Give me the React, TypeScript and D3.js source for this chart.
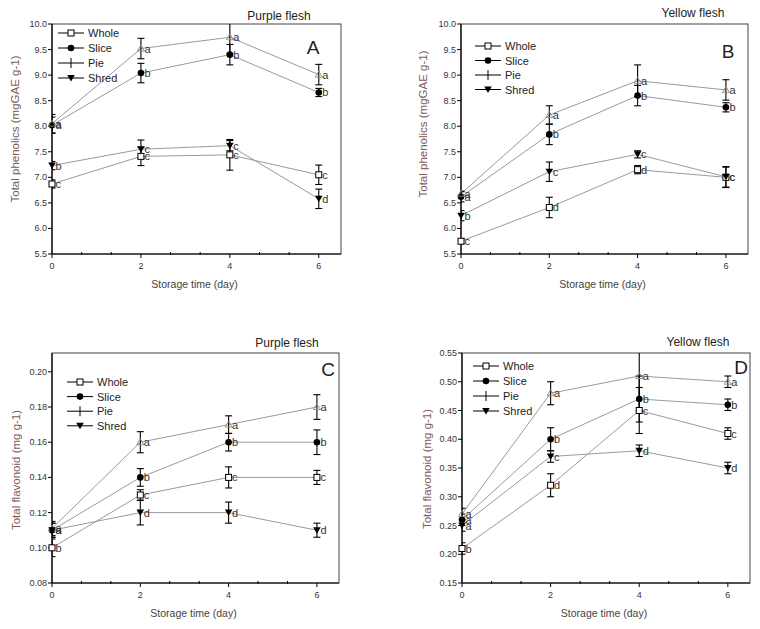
import React from "react";
import * as d3 from "d3";

// ---------- data ----------
const days = [0, 2, 4, 6];
const seriesNames = ["Whole", "Slice", "Pie", "Shred"];

// A: Total phenolics, purple flesh
const phenPurpleWhole = [6.87, 7.41, 7.44, 7.05];
const phenPurpleWholeErr = [0.08, 0.18, 0.3, 0.19];
const phenPurpleWholeSig = ["c", "c", "c", "c"];
const phenPurpleSlice = [8.02, 9.04, 9.4, 8.66];
const phenPurpleSliceErr = [0.16, 0.19, 0.2, 0.08];
const phenPurpleSliceSig = ["a", "b", "b", "b"];
const phenPurplePie = [8.05, 9.52, 9.74, 9.01];
const phenPurplePieErr = [0.18, 0.2, 0.32, 0.2];
const phenPurplePieSig = ["a", "a", "a", "a"];
const phenPurpleShred = [7.23, 7.55, 7.62, 6.58];
const phenPurpleShredErr = [0.08, 0.18, 0.1, 0.19];
const phenPurpleShredSig = ["b", "c", "c", "d"];

// B: Total phenolics, yellow flesh
const phenYellowWhole = [5.75, 6.41, 7.15, 7.0];
const phenYellowWholeErr = [0.05, 0.2, 0.08, 0.2];
const phenYellowWholeSig = ["c", "d", "d", "c"];
const phenYellowSlice = [6.62, 7.84, 8.6, 8.37];
const phenYellowSliceErr = [0.1, 0.2, 0.2, 0.09];
const phenYellowSliceSig = ["a", "b", "b", "b"];
const phenYellowPie = [6.68, 8.22, 8.89, 8.71];
const phenYellowPieErr = [0.05, 0.18, 0.31, 0.2];
const phenYellowPieSig = ["a", "a", "a", "a"];
const phenYellowShred = [6.25, 7.11, 7.45, 7.01];
const phenYellowShredErr = [0.1, 0.19, 0.07, 0.2];
const phenYellowShredSig = ["b", "c", "c", "c"];

// C: Total flavonoid, purple flesh
const flavPurpleWhole = [0.1, 0.13, 0.14, 0.14];
const flavPurpleWholeErr = [0.005, 0.003, 0.006, 0.004];
const flavPurpleWholeSig = ["b", "c", "c", "c"];
const flavPurpleSlice = [0.11, 0.14, 0.16, 0.16];
const flavPurpleSliceErr = [0.004, 0.005, 0.005, 0.007];
const flavPurpleSliceSig = ["a", "b", "b", "b"];
const flavPurplePie = [0.111, 0.16, 0.17, 0.18];
const flavPurplePieErr = [0.004, 0.006, 0.005, 0.007];
const flavPurplePieSig = ["a", "a", "a", "a"];
const flavPurpleShred = [0.11, 0.12, 0.12, 0.11];
const flavPurpleShredErr = [0.004, 0.007, 0.006, 0.004];
const flavPurpleShredSig = ["a", "d", "d", "d"];

// D: Total flavonoid, yellow flesh
const flavYellowWhole = [0.21, 0.32, 0.45, 0.41];
const flavYellowWholeErr = [0.01, 0.02, 0.04, 0.01];
const flavYellowWholeSig = ["b", "d", "c", "c"];
const flavYellowSlice = [0.26, 0.4, 0.47, 0.46];
const flavYellowSliceErr = [0.01, 0.02, 0.04, 0.01];
const flavYellowSliceSig = ["a", "b", "b", "b"];
const flavYellowPie = [0.27, 0.48, 0.51, 0.5];
const flavYellowPieErr = [0.01, 0.02, 0.06, 0.01];
const flavYellowPieSig = ["a", "a", "a", "a"];
const flavYellowShred = [0.25, 0.37, 0.38, 0.35];
const flavYellowShredErr = [0.01, 0.01, 0.01, 0.01];
const flavYellowShredSig = ["a", "c", "d", "d"];

const phenTicks = [5.5, 6.0, 6.5, 7.0, 7.5, 8.0, 8.5, 9.0, 9.5, 10.0];
const flavPurpleTicks = [0.08, 0.1, 0.12, 0.14, 0.16, 0.18, 0.2];
const flavYellowTicks = [0.15, 0.2, 0.25, 0.3, 0.35, 0.4, 0.45, 0.5, 0.55];
const xTicks = [0, 2, 4, 6];

// ---------- layout / style ----------
const FONT = "'Liberation Sans', Arial, Helvetica, sans-serif";
const LINE_GRAY = "#9a9a9a";

type Series = { name: string; vals: number[]; err: number[]; sig: string[] };

const mk = (v: number[][], e: number[][], s: string[][]): Series[] =>
  seriesNames.map((name, i) => ({ name, vals: v[i], err: e[i], sig: s[i] }));

const panels = [
  {
    id: "A",
    x0: 52, x1: 341, y0: 24, y1: 254,
    yDomain: [5.5, 10], yTicks: phenTicks, fmt: ".1f",
    title: "Purple flesh", titleX: 279, titleY: 20,
    letterX: 313, letterY: 54,
    yLabel: "Total phenolics (mgGAE g-1)", yLabelX: 19, yLabelY: 129,
    legX: 58, legY: 33, legDy: 15,
    series: mk(
      [phenPurpleWhole, phenPurpleSlice, phenPurplePie, phenPurpleShred],
      [phenPurpleWholeErr, phenPurpleSliceErr, phenPurplePieErr, phenPurpleShredErr],
      [phenPurpleWholeSig, phenPurpleSliceSig, phenPurplePieSig, phenPurpleShredSig]
    ),
  },
  {
    id: "B",
    x0: 461, x1: 748, y0: 24, y1: 254,
    yDomain: [5.5, 10], yTicks: phenTicks, fmt: ".1f",
    title: "Yellow flesh", titleX: 693, titleY: 17,
    letterX: 728, letterY: 58,
    yLabel: "Total phenolics (mgGAE g-1)", yLabelX: 427, yLabelY: 124,
    legX: 475, legY: 46, legDy: 14.5,
    series: mk(
      [phenYellowWhole, phenYellowSlice, phenYellowPie, phenYellowShred],
      [phenYellowWholeErr, phenYellowSliceErr, phenYellowPieErr, phenYellowShredErr],
      [phenYellowWholeSig, phenYellowSliceSig, phenYellowPieSig, phenYellowShredSig]
    ),
  },
  {
    id: "C",
    x0: 52, x1: 339, y0: 353, y1: 583,
    yDomain: [0.08, 0.2107], yTicks: flavPurpleTicks, fmt: ".2f",
    title: "Purple flesh", titleX: 287, titleY: 347,
    letterX: 328, letterY: 376,
    yLabel: "Total flavonoid (mg g-1)", yLabelX: 20, yLabelY: 470,
    legX: 67, legY: 382, legDy: 14.6,
    series: mk(
      [flavPurpleWhole, flavPurpleSlice, flavPurplePie, flavPurpleShred],
      [flavPurpleWholeErr, flavPurpleSliceErr, flavPurplePieErr, flavPurpleShredErr],
      [flavPurpleWholeSig, flavPurpleSliceSig, flavPurplePieSig, flavPurpleShredSig]
    ),
  },
  {
    id: "D",
    x0: 462, x1: 750, y0: 353, y1: 583,
    yDomain: [0.15, 0.55], yTicks: flavYellowTicks, fmt: ".2f",
    title: "Yellow flesh", titleX: 698, titleY: 346,
    letterX: 741, letterY: 374,
    yLabel: "Total flavonoid (mg g-1)", yLabelX: 431, yLabelY: 469,
    legX: 473, legY: 366, legDy: 15,
    series: mk(
      [flavYellowWhole, flavYellowSlice, flavYellowPie, flavYellowShred],
      [flavYellowWholeErr, flavYellowSliceErr, flavYellowPieErr, flavYellowShredErr],
      [flavYellowWholeSig, flavYellowSliceSig, flavYellowPieSig, flavYellowShredSig]
    ),
  },
];

function Marker({ name, x, y, legend }: { name: string; x: number; y: number; legend?: boolean }) {
  if (name === "Whole") {
    return <rect x={x - 3} y={y - 3} width={6} height={6} fill="#fff" stroke="#000" strokeWidth={1} />;
  }
  if (name === "Slice") {
    return <circle cx={x} cy={y} r={3.3} fill="#000" />;
  }
  if (name === "Pie") {
    if (legend) {
      return <path d={`M${x},${y - 5}V${y + 5}`} stroke="#000" strokeWidth={1} />;
    }
    return (
      <path
        d={`M${x},${y - 3.5}L${x + 3.5},${y + 2.5}L${x - 3.5},${y + 2.5}Z`}
        fill="none"
        stroke="#888"
        strokeWidth={0.9}
      />
    );
  }
  // Shred: filled down triangle
  return <path d={`M${x - 3.8},${y - 3}L${x + 3.8},${y - 3}L${x},${y + 3.5}Z`} fill="#000" />;
}

function Panel({ p }: { p: (typeof panels)[number] }) {
  const x = d3.scaleLinear().domain([0, 6.5]).range([p.x0, p.x1]);
  const y = d3.scaleLinear().domain(p.yDomain).range([p.y1, p.y0]);
  const fmt = d3.format(p.fmt);
  const line = d3
    .line<number>()
    .x((_, i) => x(days[i]))
    .y((v) => y(v));
  const minor = d3.range(0, 6.5, 2 / 3).filter((t) => Math.abs(t / 2 - Math.round(t / 2)) > 0.01);
  const clipId = `clip-${p.id}`;
  const cap = 3.5;
  return (
    <g>
      <defs>
        <clipPath id={clipId}>
          <rect x={p.x0} y={p.y0} width={p.x1 - p.x0} height={p.y1 - p.y0} />
        </clipPath>
      </defs>
      {/* frame */}
      <rect x={p.x0} y={p.y0} width={p.x1 - p.x0} height={p.y1 - p.y0} fill="none" stroke="#444" strokeWidth={1} />
      <line x1={p.x0} x2={p.x0} y1={p.y0} y2={p.y1} stroke="#000" strokeWidth={1.2} />
      <line x1={p.x0} x2={p.x1} y1={p.y1} y2={p.y1} stroke="#000" strokeWidth={1.2} />
      {/* y ticks */}
      {p.yTicks.map((t) => (
        <g key={t}>
          <line x1={p.x0 - 4} x2={p.x0} y1={y(t)} y2={y(t)} stroke="#000" strokeWidth={1} />
          <text x={p.x0 - 5} y={y(t) + 3} textAnchor="end" fontSize={9} fill="#3a3040" fontFamily={FONT}>
            {fmt(t)}
          </text>
        </g>
      ))}
      {/* x ticks */}
      {xTicks.map((t) => (
        <g key={t}>
          <line x1={x(t)} x2={x(t)} y1={p.y1} y2={p.y1 + 4} stroke="#000" strokeWidth={1} />
          <text x={x(t)} y={p.y1 + 15} textAnchor="middle" fontSize={9} fill="#3a3040" fontFamily={FONT}>
            {t}
          </text>
        </g>
      ))}
      {minor.map((t) => (
        <line key={t} x1={x(t)} x2={x(t)} y1={p.y1 - 2} y2={p.y1 + 1} stroke="#000" strokeWidth={1} />
      ))}
      {/* axis titles */}
      <text
        x={(p.x0 + p.x1) / 2 - 2}
        y={p.y1 + 34}
        textAnchor="middle"
        fontSize={10.5}
        fill="#444"
        fontFamily={FONT}
      >
        Storage time (day)
      </text>
      <text
        transform={`translate(${p.yLabelX},${p.yLabelY}) rotate(-90)`}
        textAnchor="middle"
        fontSize={11.5}
        fill="#7d5c5c"
        fontFamily={FONT}
      >
        {p.yLabel}
      </text>
      <text x={p.titleX} y={p.titleY} textAnchor="middle" fontSize={12} fill="#222" fontFamily={FONT}>
        {p.title}
      </text>
      <text x={p.letterX} y={p.letterY} textAnchor="middle" fontSize={19} fill="#222" fontFamily={FONT}>
        {p.id}
      </text>
      {/* lines */}
      <g clipPath={`url(#${clipId})`}>
        {p.series.map((s) => (
          <path key={s.name} d={line(s.vals) || ""} fill="none" stroke={LINE_GRAY} strokeWidth={1} />
        ))}
        {/* error bars */}
        {p.series.map((s) =>
          s.vals.map((v, i) => {
            const cx = x(days[i]);
            const top = y(v + s.err[i]);
            const bot = y(v - s.err[i]);
            return (
              <g key={s.name + i} stroke="#000" strokeWidth={1.1}>
                <line x1={cx} x2={cx} y1={top} y2={bot} />
                <line x1={cx - cap} x2={cx + cap} y1={top} y2={top} />
                <line x1={cx - cap} x2={cx + cap} y1={bot} y2={bot} />
              </g>
            );
          })
        )}
      </g>
      {/* markers */}
      {p.series.map((s) =>
        s.vals.map((v, i) => <Marker key={s.name + i} name={s.name} x={x(days[i])} y={y(v)} />)
      )}
      {/* significance letters */}
      {p.series.map((s) =>
        s.vals.map((v, i) => (
          <text
            key={"l" + s.name + i}
            x={x(days[i]) + 3.5}
            y={y(v) + 4}
            fontSize={11}
            fill="#333"
            fontFamily={FONT}
          >
            {s.sig[i]}
          </text>
        ))
      )}
      {/* legend */}
      {p.series.map((s, i) => {
        const ly = p.legY + i * p.legDy;
        return (
          <g key={"leg" + s.name}>
            <line x1={p.legX} x2={p.legX + 26} y1={ly} y2={ly} stroke="#000" strokeWidth={1} />
            <Marker name={s.name} x={p.legX + 13} y={ly} legend />
            <text x={p.legX + 30} y={ly + 4} fontSize={11} fill="#222" fontFamily={FONT}>
              {s.name}
            </text>
          </g>
        );
      })}
    </g>
  );
}

export default function App() {
  return (
    <svg
      width={760}
      height={629}
      style={{ position: "absolute", left: 0, top: 0, background: "#fff" }}
      xmlns="http://www.w3.org/2000/svg"
    >
      <rect width={760} height={629} fill="#fff" />
      {panels.map((p) => (
        <Panel key={p.id} p={p} />
      ))}
    </svg>
  );
}
